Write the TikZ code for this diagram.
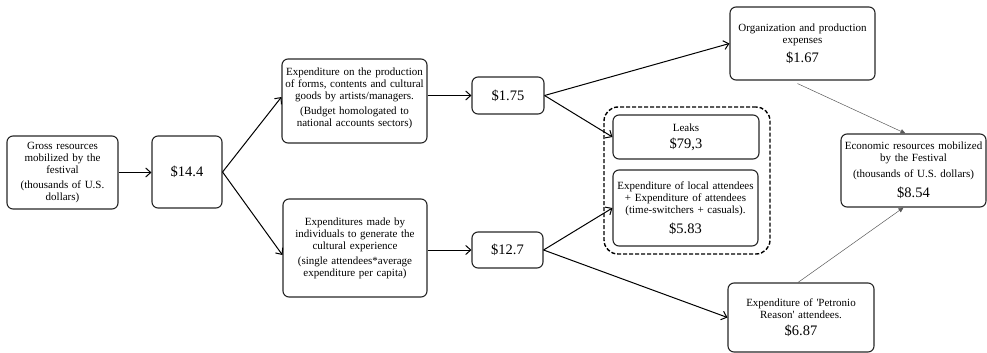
\documentclass[tikz,border=0pt]{standalone}
\usepackage{fontspec}
\setmainfont{Liberation Serif}
\usetikzlibrary{arrows.meta,calc}
\newcommand{\txtfont}{\rmfamily\fontsize{11}{12}\selectfont}
\newcommand{\valfont}{\rmfamily\fontsize{14.5}{17}\selectfont}
\tikzset{
  box/.style={draw=black!85, line width=1.1pt, rounded corners=6pt, align=center,
              font=\txtfont, inner sep=2pt},
  flow/.style={draw=black, line width=1pt,
               -{Straight Barb[length=5pt,width=9pt,line width=1pt]}},
  feed/.style={draw=black!65, line width=0.5pt,
               -{Triangle[length=5pt,width=4.5pt]}},
  dashgroup/.style={draw=black, line width=1.4pt, dash pattern=on 4pt off 2pt,
                    rounded corners=14pt},
}
\begin{document}
\begin{tikzpicture}[x=1pt,y=-1pt]
\useasboundingbox (0,0) rectangle (987,353);

% input side
\node[box, text width=107pt, minimum height=73pt] (gross) at (62.5,172.5)
  {Gross resources\\mobilized by the\\festival\\[3pt](thousands of U.S.\\dollars)};
\node[box, minimum width=70pt, minimum height=72pt, font=\valfont] (v144) at (187,172) {\$14.4};

% split of the spending
\node[box, minimum width=145pt, minimum height=84pt] (prod) at (354.5,101) {};
\node[font=\txtfont, align=center, text width=141pt, inner sep=0pt] (prodtext) at (354.5,98)
  {Expenditure on the production\\of forms, contents and cultural\\goods by artists/managers.\\[3pt](Budget homologated to\\national accounts sectors)};
\node[box, text width=140pt, minimum height=98pt] (indiv) at (355,248)
  {Expenditures made by\\individuals to generate the\\cultural experience\\[3pt](single attendees*average\\expenditure per capita)};

\node[box, minimum width=72pt, minimum height=37pt, font=\valfont] (v175) at (508,95.5) {\$1.75};
\node[box, minimum width=71pt, minimum height=36pt, font=\valfont] (v127) at (507.5,250) {\$12.7};

% leaks group
\node[dashgroup, minimum width=166pt, minimum height=147pt] (grp) at (687,180.5) {};
\node[box, text width=142pt, minimum height=44pt] (leaks) at (686,137)
  {Leaks\\[5pt]\valfont \$79,3};
\node[box, text width=141pt, minimum height=76pt] (local) at (685.5,208)
  {Expenditure of local attendees\\+ Expenditure of attendees\\(time-switchers + casuals).\\[6pt]\valfont \$5.83};

% retained resources
\node[box, text width=141pt, minimum height=73pt] (org) at (802.5,43.5)
  {Organization and production\\expenses\\[5pt]\valfont \$1.67};
\node[box, text width=142pt, minimum height=69pt] (petr) at (801,317.5)
  {Expenditure of \textquotesingle Petronio\\Reason\textquotesingle{} attendees.\\[5pt]\valfont \$6.87};
\node[box, text width=141pt, minimum height=73pt] (econ) at (913.5,170.5)
  {Economic resources mobilized\\by the Festival\\[4pt](thousands of U.S. dollars)\\[6pt]\valfont \$8.54};

% connectors
\draw[flow] (gross.east) -- (gross.east -| v144.west);
\draw[flow] (v144.east) -- ([yshift=4pt]prod.west);
\draw[flow] (v144.east) -- ([yshift=-7pt]indiv.west);
\draw[flow] (prod.east |- v175.west) -- (v175.west);
\draw[flow] (indiv.east |- v127.west) -- (v127.west);
\draw[flow] (v175.east) -- (org.west);
\draw[flow] (v175.east) -- (leaks.west);
\draw[flow] (v127.east) -- (local.west);
\draw[flow] (v127.east) -- (petr.west);
\draw[feed] ([xshift=-5pt,yshift=-3pt]org.south) -- ([xshift=-8pt]econ.north);
\draw[feed] ([xshift=-3pt]petr.north) -- ([xshift=-10pt]econ.south);
\end{tikzpicture}
\end{document}
